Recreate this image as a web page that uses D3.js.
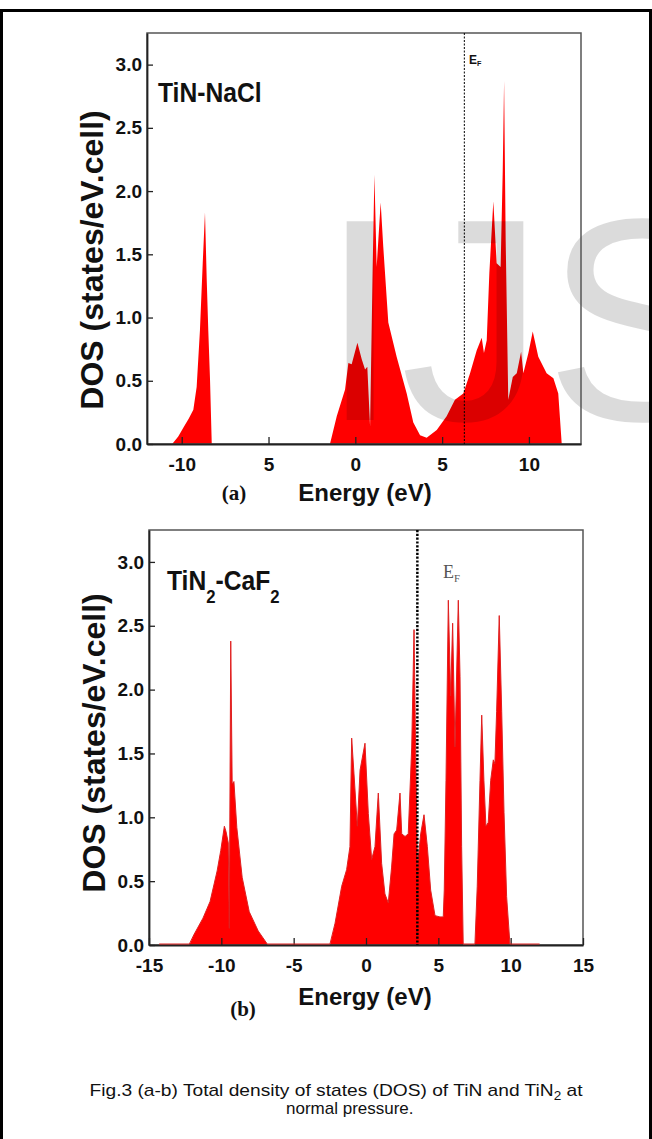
<!DOCTYPE html>
<html>
<head>
<meta charset="utf-8">
<script src="https://cdn.jsdelivr.net/npm/d3@7"></script>
<style>
  body { margin: 0; background: #fff; }
  svg { display: block; }
</style>
</head>
<body>
<div id="chart"></div>
<script>
// TiN (NaCl) total DOS, energy in eV
const tinEnergy = [-10.55, -10.2, -9.9, -9.6, -9.33, -9.14, -8.95, -8.79, -8.66, -8.56, -8.47, -8.37, -8.27,
  -1.46, -1.07, -0.59, -0.40, -0.21, 0.12, 0.37, 0.56, 0.69, 0.85, 1.0, 1.10, 1.23, 1.46, 1.61, 1.90, 2.38,
  2.96, 3.34, 3.73, 4.11, 4.69, 5.26, 5.74, 6.22, 6.61, 6.99, 7.28, 7.41, 7.57, 7.72, 7.95, 8.14, 8.37, 8.49,
  8.57, 8.66, 8.81, 9.07, 9.30, 9.55, 9.68, 9.97, 10.22, 10.54, 11.02, 11.41, 11.69, 11.89];
const tinDos = [0, 0.06, 0.13, 0.2, 0.27, 0.45, 0.90, 1.43, 1.83, 1.30, 0.90, 0.51, 0,
  0, 0.22, 0.43, 0.64, 0.63, 0.80, 0.67, 0.59, 0.61, 0.14, 1.40, 2.13, 1.40, 1.91, 1.56, 0.96, 0.69,
  0.40, 0.17, 0.07, 0.05, 0.11, 0.22, 0.35, 0.40, 0.56, 0.74, 0.84, 0.72, 0.82, 1.35, 1.92, 1.43, 1.40, 2.15,
  2.87, 1.62, 0.35, 0.53, 0.56, 0.73, 0.56, 0.72, 0.89, 0.69, 0.56, 0.52, 0.40, 0];

// TiN2 (CaF2) total DOS
const tin2Energy = [-14.3, -12.21, -11.9, -11.27, -10.78, -10.29, -10.04, -9.79, -9.68, -9.52, -9.45, -9.35,
  -9.25, -9.13, -8.93, -8.56, -8.07, -7.45, -6.84, -6.8, -2.49, -2.14, -1.68, -1.34, -1.11, -0.99, -0.83,
  -0.60, -0.41, -0.07, 0.16, 0.39, 0.62, 0.85, 1.08, 1.31, 1.54, 1.77, 1.94, 2.12, 2.35, 2.47, 2.70, 2.92,
  3.16, 3.32, 3.46, 3.55, 3.78, 4.01, 4.24, 4.47, 4.77, 5.11, 5.34, 5.41, 5.53, 5.69, 5.85, 5.99, 6.15, 6.38,
  6.50, 6.61, 6.72, 7.53, 7.69, 7.88, 8.00, 8.15, 8.29, 8.45, 8.62, 8.80, 8.91, 9.03, 9.21, 9.38, 9.54, 9.72,
  9.95, 12.0];
const tin2Dos = [0, 0, 0.08, 0.21, 0.34, 0.58, 0.74, 0.93, 0.89, 0.80, 0.13, 2.38,
  1.26, 1.28, 0.92, 0.53, 0.26, 0.11, 0.01, 0, 0, 0.17, 0.46, 0.59, 0.77, 1.62, 1.34,
  0.93, 1.37, 1.58, 1.03, 0.67, 0.77, 1.19, 0.64, 0.40, 0.33, 0.61, 0.87, 0.90, 1.19, 0.87, 0.85, 0.87,
  1.55, 2.47, 1.29, 0.61, 0.87, 1.02, 0.77, 0.43, 0.23, 0.22, 0.22, 0.43, 1.29, 2.70, 1.95, 2.52, 1.55, 2.70,
  2.10, 0.77, 0, 0, 0.46, 1.29, 1.80, 1.29, 0.93, 0.96, 1.29, 1.45, 1.42, 1.83, 2.58, 1.83, 1.04, 0.38,
  0, 0];

const yTicks = [0, 0.5, 1.0, 1.5, 2.0, 2.5, 3.0];
const topXTicks = [-10, -5, 0, 5, 10];
const topXLabels = ["-10", "5", "0", "5", "10"];
const bottomXTicks = [-15, -10, -5, 0, 5, 10, 15];
const bottomXLabels = ["-15", "-10", "-5", "0", "5", "10", "15"];
const tinFermi = 6.28;
const tin2Fermi = 3.55;

const width = 652, height = 1139;
const sans = "'Liberation Sans', Arial, sans-serif";
const serif = "'Liberation Serif', 'Times New Roman', serif";

const svg = d3.select("#chart").append("svg")
    .attr("width", width)
    .attr("height", height);

// outer figure border (top, left, right)
svg.append("path")
    .attr("d", "M1.5,1139 V10.5 H650.5 V1139")
    .attr("fill", "none")
    .attr("stroke", "#000")
    .attr("stroke-width", 3);

function drawPanel(p) {
    const x = d3.scaleLinear().domain(p.xDomain).range([p.left, p.right]);
    const y = d3.scaleLinear().domain([0, 3.25]).range([p.bottom, p.top]);
    const pts = p.energy.map((e, i) => [e, p.dos[i]]);

    // filled DOS
    svg.append("path")
        .datum(pts)
        .attr("fill", "#ff0000")
        .attr("d", d3.area().x(d => x(d[0])).y0(y(0)).y1(d => y(d[1])));

    if (p.watermark) {
        svg.append("text")
            .attr("x", 320)
            .attr("y", 420)
            .style("font-family", sans)
            .style("font-size", "289px")
            .attr("fill", "#000")
            .attr("fill-opacity", 0.14)
            .text("IJS");
    }

    // frame
    svg.append("rect")
        .attr("x", p.left).attr("y", p.top)
        .attr("width", p.right - p.left).attr("height", p.bottom - p.top)
        .attr("fill", "none")
        .attr("stroke", "#555")
        .attr("stroke-width", 1.5);

    // axes with inward ticks
    const xAxis = svg.append("g")
        .attr("transform", "translate(0," + p.bottom + ")")
        .call(d3.axisBottom(x).tickValues(p.xTicks)
            .tickFormat((d, i) => p.xLabels[i])
            .tickSizeInner(-7).tickSizeOuter(0).tickPadding(14));
    const yAxis = svg.append("g")
        .attr("transform", "translate(" + p.left + ",0)")
        .call(d3.axisLeft(y).tickValues(yTicks)
            .tickFormat(d3.format(".1f"))
            .tickSizeInner(-6).tickSizeOuter(0).tickPadding(5));
    [xAxis, yAxis].forEach(a => {
        a.select(".domain").attr("stroke", "#222").attr("stroke-width", 1.8);
        a.selectAll(".tick line").attr("stroke", "#222").attr("stroke-width", 1.3);
        a.selectAll("text")
            .style("font-family", sans)
            .style("font-weight", "bold")
            .style("font-size", "19px")
            .attr("fill", "#111");
    });

    if (p.baseline) {
        svg.append("path")
            .datum(pts)
            .attr("fill", "none")
            .attr("stroke", "#e02020")
            .attr("stroke-width", 1)
            .attr("d", d3.line().x(d => x(d[0])).y(d => Math.min(y(d[1]), p.bottom - 1)));
    }

    // Fermi level
    svg.append("line")
        .attr("x1", x(p.fermi)).attr("x2", x(p.fermi))
        .attr("y1", p.top).attr("y2", p.bottom)
        .attr("stroke", "#000")
        .attr("stroke-width", p.fermiWidth)
        .attr("stroke-dasharray", p.fermiDash);

    const ef = svg.append("text")
        .attr("x", p.efX).attr("y", p.efY)
        .style("font-family", p.efFont)
        .style("font-weight", p.efWeight)
        .style("font-size", p.efSize + "px")
        .attr("fill", p.efColor);
    ef.append("tspan").text("E");
    ef.append("tspan").attr("dy", p.efSize * 0.2).style("font-size", (p.efSize * 0.6) + "px").text("F");

    // material label
    const lab = svg.append("g")
        .attr("transform", "translate(" + p.labelX + "," + p.labelY + ") scale(0.88,1)")
        .append("text")
        .style("font-family", sans)
        .style("font-weight", "bold")
        .style("font-size", "28px")
        .attr("fill", "#111");
    p.label.forEach(part => {
        lab.append("tspan")
            .attr("dy", part.dy)
            .style("font-size", part.sub ? "19px" : "28px")
            .text(part.t);
    });

    // axis titles
    svg.append("text")
        .attr("transform", "translate(" + p.yTitleX + "," + p.yTitleY + ") rotate(-90)")
        .attr("text-anchor", "middle")
        .style("font-family", sans)
        .style("font-weight", "bold")
        .style("font-size", "32px")
        .attr("fill", "#111")
        .text("DOS (states/eV.cell)");

    svg.append("text")
        .attr("x", 365).attr("y", p.xTitleY)
        .attr("text-anchor", "middle")
        .style("font-family", sans)
        .style("font-weight", "bold")
        .style("font-size", "24px")
        .attr("fill", "#111")
        .text("Energy (eV)");

    svg.append("text")
        .attr("x", p.tagX).attr("y", p.tagY)
        .attr("text-anchor", "middle")
        .style("font-family", serif)
        .style("font-weight", "bold")
        .style("font-size", "21px")
        .attr("fill", "#111")
        .text(p.tag);
}

drawPanel({
    energy: tinEnergy, dos: tinDos,
    xDomain: [-12, 13], left: 147, right: 581, top: 33, bottom: 444,
    xTicks: topXTicks, xLabels: topXLabels,
    fermi: tinFermi, fermiWidth: 1, fermiDash: "2,1.5",
    efX: 469, efY: 64, efFont: sans, efWeight: "bold", efSize: 12, efColor: "#111",
    label: [{ t: "TiN-NaCl", dy: 0 }], labelX: 158, labelY: 102,
    yTitleX: 103, yTitleY: 260, xTitleY: 501,
    tag: "(a)", tagX: 234, tagY: 500,
    watermark: true, baseline: false
});

drawPanel({
    energy: tin2Energy, dos: tin2Dos,
    xDomain: [-15, 15], left: 149, right: 583, top: 530, bottom: 945,
    xTicks: bottomXTicks, xLabels: bottomXLabels,
    fermi: tin2Fermi, fermiWidth: 2.5, fermiDash: "2.2,1.6",
    efX: 443, efY: 578, efFont: serif, efWeight: "normal", efSize: 18, efColor: "#555",
    label: [{ t: "TiN", dy: 0 }, { t: "2", dy: 13, sub: true }, { t: "-CaF", dy: -13 }, { t: "2", dy: 13, sub: true }],
    labelX: 167, labelY: 590,
    yTitleX: 105, yTitleY: 743, xTitleY: 1005,
    tag: "(b)", tagX: 243, tagY: 1016,
    watermark: false, baseline: true
});

// caption
const cap = svg.append("text")
    .attr("x", 336).attr("y", 1096)
    .attr("text-anchor", "middle")
    .attr("textLength", 493)
    .attr("lengthAdjust", "spacingAndGlyphs")
    .style("font-family", sans)
    .style("font-size", "17px")
    .attr("fill", "#111");
cap.append("tspan").text("Fig.3 (a-b) Total density of states (DOS) of TiN and TiN");
cap.append("tspan").attr("dy", 4).style("font-size", "12px").text("2");
cap.append("tspan").attr("dy", -4).text(" at");

svg.append("text")
    .attr("x", 286).attr("y", 1114)
    .style("font-family", sans)
    .style("font-size", "17px")
    .attr("fill", "#111")
    .text("normal pressure.");
</script>
</body>
</html>
